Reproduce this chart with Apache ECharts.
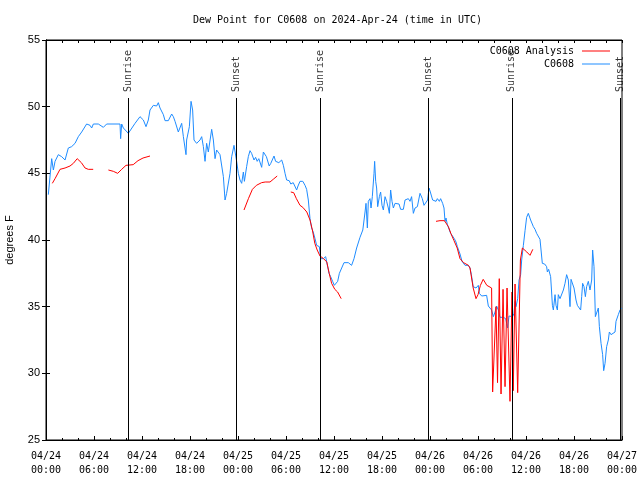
<!DOCTYPE html>
<html><head><meta charset="utf-8">
<script src="https://cdn.jsdelivr.net/npm/echarts/dist/echarts.min.js"></script>
<style>html,body{margin:0;padding:0;background:#fff}#c{width:640px;height:480px}</style>
</head><body><div id="c"></div>
<script>
// ---------------- DATA ----------------
const titleText = 'Dew Point for C0608 on 2024-Apr-24 (time in UTC)';
const yAxisName = 'degrees F';
// x tick labels, one per 6 hours from 2024-04-24 00:00 UTC
const xTickLabels = ['04/24\n00:00','04/24\n06:00','04/24\n12:00','04/24\n18:00',
  '04/25\n00:00','04/25\n06:00','04/25\n12:00','04/25\n18:00',
  '04/26\n00:00','04/26\n06:00','04/26\n12:00','04/26\n18:00','04/27\n00:00'];
// sunrise / sunset events (hours since 04/24 00:00 UTC)
const sunHours = [10.29, 23.75, 34.30, 47.80, 58.22, 71.83];
const sunNames = ['Sunrise','Sunset','Sunrise','Sunset','Sunrise','Sunset'];
// C0608 observations (hours since 04/24 00:00 UTC, degrees F)
const obsHours = [0.29,0.71,0.92,1.13,1.54,1.96,2.17,2.38,2.79,3.2,3.63,4.04,4.46,5.08,5.5,5.71,5.92,6.54,7.17,7.38,7.58,9.25,9.33,9.46,9.67,10.29,10.5,11.13,11.75,11.96,12.17,12.5,12.79,13.0,13.42,13.83,14.04,14.25,14.67,14.88,15.29,15.71,15.92,16.13,16.54,16.96,17.17,17.5,17.58,17.92,18.13,18.33,18.5,18.83,19.25,19.46,19.67,19.88,20.08,20.29,20.71,20.92,21.13,21.33,21.75,22.17,22.38,22.58,23.0,23.21,23.5,23.83,24.04,24.25,24.46,24.67,24.8,25.08,25.29,25.5,25.7,26.0,26.2,26.4,26.6,26.96,27.17,27.4,27.55,27.9,28.1,28.3,28.5,28.7,28.9,29.1,29.3,29.46,29.67,29.88,30.08,30.4,30.6,30.9,31.1,31.33,31.5,31.75,32.1,32.38,32.58,32.79,33.0,33.2,33.4,33.63,33.83,33.95,34.17,34.33,34.46,34.67,34.96,35.17,35.38,35.58,35.83,36.04,36.25,36.46,36.67,36.96,37.25,37.79,38.2,38.5,38.83,39.25,39.6,39.88,40.0,40.17,40.29,40.5,40.63,40.79,41.0,41.08,41.21,41.33,41.46,41.67,41.83,42.0,42.17,42.38,42.58,42.79,42.92,43.08,43.25,43.42,43.63,43.83,44.13,44.33,44.67,44.88,45.08,45.29,45.5,45.7,45.92,46.13,46.42,46.75,47.04,47.25,47.5,47.7,47.88,48.04,48.33,48.5,48.75,48.92,49.17,49.33,49.58,49.75,49.88,50.0,50.17,50.42,50.58,50.83,51.04,51.25,51.42,51.58,51.75,52.0,52.38,52.79,53.0,53.17,53.4,53.75,54.04,54.17,54.46,54.67,55.08,55.29,55.5,55.7,55.92,56.13,56.33,56.54,56.75,57.17,57.46,57.58,57.7,57.88,58.08,58.33,58.5,58.63,58.75,58.96,59.13,59.33,59.46,59.67,59.88,60.08,60.29,60.4,60.58,60.75,60.92,61.13,61.33,61.54,61.75,61.92,62.04,62.33,62.58,62.67,62.83,63.08,63.2,63.3,63.42,63.63,63.75,63.92,64.04,64.25,64.46,64.67,64.88,65.08,65.29,65.42,65.5,65.63,65.83,66.0,66.25,66.42,66.67,66.83,66.96,67.08,67.25,67.42,67.58,67.79,68.0,68.21,68.33,68.5,68.67,68.92,69.04,69.17,69.38,69.58,69.71,69.88,70.08,70.29,70.42,70.63,70.83,71.13,71.25,71.54,71.75,71.96];
const obsValues = [43.4,46.1,45.25,45.9,46.4,46.25,46.4,46.0,46.9,47.0,47.25,47.75,48.1,48.7,48.6,48.4,48.7,48.7,48.45,48.3,48.7,48.7,47.6,48.7,48.4,48.0,48.1,48.75,49.25,49.4,49.0,48.5,49.0,49.75,50.1,50.05,50.3,49.9,49.4,48.95,48.95,49.45,49.25,48.9,48.1,48.75,47.75,46.4,47.5,48.5,50.4,49.75,47.5,47.25,47.5,47.75,47.0,45.9,47.25,46.6,48.3,47.5,46.1,46.75,46.4,44.75,43.0,43.5,45.0,46.25,47.1,45.9,45.0,44.5,44.25,45.1,44.4,45.5,46.25,46.7,46.5,46.0,46.2,45.9,46.1,45.45,46.6,46.55,46.25,45.55,45.75,45.6,46.3,45.9,45.75,45.8,45.95,46.0,45.6,45.0,44.5,44.45,44.2,44.3,44.05,43.75,44.05,44.4,44.4,44.1,43.8,43.0,41.6,40.9,40.6,40.1,39.6,39.75,39.5,38.6,38.75,38.6,38.75,38.1,37.5,37.25,36.9,36.6,36.5,36.9,37.5,37.9,38.3,38.3,38.1,38.6,39.4,40.2,40.75,42.1,42.75,40.9,42.9,43.1,42.4,43.25,45.0,45.9,44.4,43.9,42.5,43.25,43.6,42.6,42.25,43.25,42.9,42.4,42.0,43.75,42.9,42.4,42.75,42.8,42.7,42.3,42.3,43.0,42.9,43.1,42.9,43.25,42.0,42.4,42.5,43.5,43.1,42.6,42.5,43.0,43.9,43.6,43.0,43.1,42.9,43.1,42.9,43.1,42.75,42.4,41.4,41.65,41.15,41.25,40.5,40.4,40.1,39.85,39.5,39.6,38.95,38.4,38.1,38.1,37.9,37.4,36.5,36.4,36.6,36.0,35.8,35.85,35.85,35.05,34.9,34.75,34.25,34.6,35.05,34.75,34.2,34.2,34.1,33.75,33.4,34.3,34.4,34.25,34.5,35.4,35.0,35.6,37.0,37.4,38.5,39.6,40.7,41.7,42.0,42.1,41.5,41.4,41.0,40.8,40.5,40.4,40.05,39.9,38.25,38.2,38.0,37.6,37.8,37.25,36.1,35.1,34.75,35.9,35.1,34.75,35.9,35.6,35.75,36.25,36.75,37.4,37.0,37.1,35.0,37.05,37.0,36.4,35.5,35.1,35.0,34.75,35.75,36.75,36.5,35.75,36.5,36.9,36.25,37.0,39.25,38.0,34.25,34.2,34.9,33.5,32.25,31.4,30.2,30.75,32.0,32.5,33.1,32.9,32.75,33.1,33.9,34.4,34.75,34.9];
// C0608 Analysis (null = gap)
const anaHours = [0.79,1.13,1.75,2.38,3.0,3.42,3.9,4.13,4.42,4.88,5.29,5.9,6.9,
  7.8,8.42,8.96,9.46,10.0,10.9,11.5,12.13,13.0,18.0,
  24.75,25.3,25.8,26.3,26.95,27.4,28.0,28.4,28.9,29.8,
  30.6,30.96,31.3,31.75,32.1,32.6,33.0,33.3,33.6,33.9,34.25,34.7,35.1,35.4,35.7,36.1,36.45,36.9,42.0,
  48.75,49.25,49.8,50.0,50.3,50.6,51.0,51.4,51.75,52.2,52.8,53.0,53.2,53.4,53.75,54.0,54.3,54.65,55.1,55.7,55.83,56.25,56.44,56.66,56.88,57.13,57.38,57.63,58.0,58.25,58.41,58.63,58.96,59.3,59.55,60.1,60.5,60.85];
const anaValues = [44.25,44.6,45.3,45.4,45.55,45.75,46.1,46.05,45.8,45.4,45.3,45.3,null,
  45.25,45.15,45.0,45.3,45.6,45.65,45.95,46.15,46.3,null,
  42.25,43.1,43.8,44.1,44.3,44.35,44.35,44.55,44.8,null,
  43.6,43.55,43.1,42.6,42.45,42.1,41.5,40.75,39.75,39.25,38.8,38.6,38.35,37.5,36.75,36.3,36.1,35.6,null,
  41.4,41.45,41.45,41.3,41.0,40.5,39.95,39.4,38.6,38.3,38.1,37.9,37.15,36.4,35.6,35.9,36.6,37.05,36.6,36.4,28.6,35.0,29.3,37.1,28.45,36.3,29.0,36.4,27.9,36.1,28.7,36.7,28.55,38.5,39.4,39.1,38.85,39.3];

// ---------------- CHART ----------------
const MONO = 'DejaVu Sans Mono';
const SANS = 'Liberation Sans';
const SUN_LABEL_Y = 51.1, SUN_LINE_TOP = 50.65;
const chart = echarts.init(document.getElementById('c'), null, {renderer:'canvas'});
const obsData = obsHours.map((t,i)=>[t, obsValues[i]]);
const anaData = anaHours.map((t,i)=>[t, anaValues[i] === null ? '-' : anaValues[i]]);
const txt = {fontFamily: MONO, fontSize: 10, color: '#000'};
const legendBase = {right: 30, orient:'horizontal', align:'right', icon:'rect', itemWidth:28, itemHeight:1,
  padding:0, selectedMode:false, textStyle:Object.assign({padding:[0,3,0,0]}, txt)};
chart.setOption({
  animation:false,
  backgroundColor:'#fff',
  title:{text:titleText, left:188, top:10,
    textStyle:{fontFamily:MONO, fontSize:10, fontWeight:'normal', color:'#000'}},
  legend:[Object.assign({data:['C0608 Analysis'], top:46}, legendBase),
          Object.assign({data:['C0608'], top:59}, legendBase)],
  grid:{left:46, right:18, top:40, bottom:40, show:true, borderColor:'#000', borderWidth:1,
    containLabel:false, outerBoundsMode:'none'},
  xAxis:[{type:'value', min:0, max:72, interval:6, position:'bottom',
      axisLine:{lineStyle:{color:'#000', width:1}},
      axisTick:{inside:true, length:4, lineStyle:{color:'#000'}},
      minorTick:{show:true, splitNumber:3, length:2, lineStyle:{color:'#000'}},
      splitLine:{show:false},
      axisLabel:Object.assign({formatter:v=>xTickLabels[Math.round(v/6)], margin:9, lineHeight:14}, txt)},
    {type:'value', min:0, max:72, interval:2, position:'top',
      axisLine:{lineStyle:{color:'#000', width:1}},
      axisTick:{inside:true, length:3, lineStyle:{color:'#000'}},
      splitLine:{show:false}, axisLabel:{show:false}}],
  yAxis:[{type:'value', min:25, max:55, interval:5, position:'left',
      name:yAxisName, nameLocation:'middle', nameGap:31,
      nameTextStyle:{fontFamily:SANS, fontSize:11, color:'#000'},
      axisLine:{lineStyle:{color:'#000', width:1}},
      axisTick:{inside:true, length:4, lineStyle:{color:'#000'}},
      splitLine:{show:false},
      axisLabel:{fontFamily:SANS, fontSize:11, color:'#000', margin:6}},
    {type:'value', min:25, max:55, interval:5, position:'right',
      axisLine:{lineStyle:{color:'#000', width:1}},
      axisTick:{inside:true, length:4, lineStyle:{color:'#000'}},
      splitLine:{show:false}, axisLabel:{show:false}}],
  series:[
    {name:'C0608', type:'line', data:obsData, showSymbol:false, symbol:'none',
      lineStyle:{color:'#1e8cff', width:1}, itemStyle:{color:'#1e8cff'}, z:2},
    {name:'C0608 Analysis', type:'line', data:anaData, showSymbol:false, symbol:'none', connectNulls:false,
      lineStyle:{color:'#ff0000', width:1}, itemStyle:{color:'#ff0000'}, z:3},
    {name:'sun', type:'scatter', silent:true, symbolSize:1, itemStyle:{color:'rgba(0,0,0,0)'},
      data:sunHours.map(t=>[t, SUN_LABEL_Y]),
      label:Object.assign({show:true, position:'inside', rotate:90, align:'left', verticalAlign:'middle',
        formatter:p=>sunNames[p.dataIndex]}, txt),
      markLine:{silent:true, symbol:['none','none'], label:{show:false},
        lineStyle:{color:'#000', width:1, type:'solid'},
        data:sunHours.map(t=>[{coord:[t,25]},{coord:[t,SUN_LINE_TOP]}])}, z:4}
  ]
});
</script></body></html>
